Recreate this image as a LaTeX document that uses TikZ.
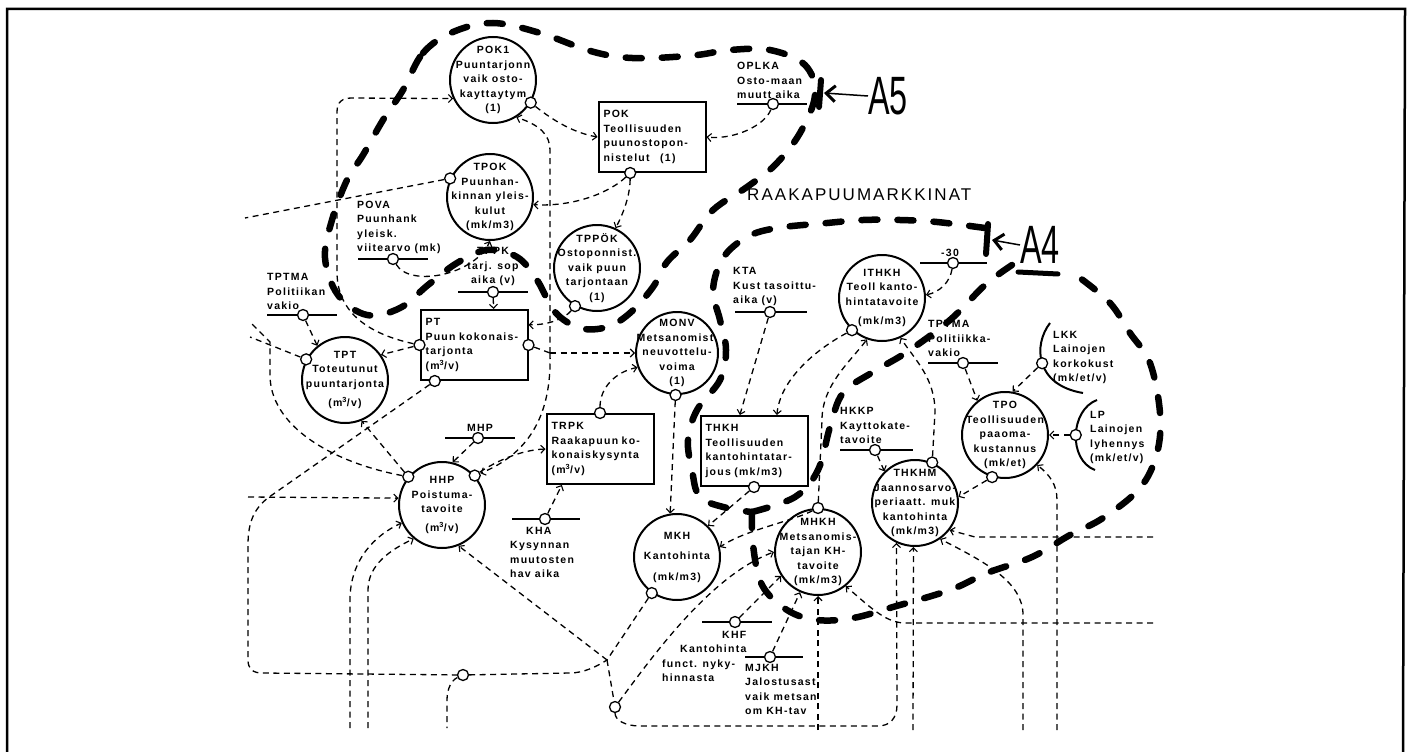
\documentclass[tikz,border=0pt]{standalone}
\usepackage{fontspec}
\setmainfont{Liberation Sans}
\newfontfamily\boxfont[LetterSpace=12]{Liberation Sans}
\newfontfamily\capsfont[LetterSpace=12]{Liberation Sans}
\newfontfamily\handfont[FakeStretch=0.6]{Liberation Sans}
\usetikzlibrary{arrows.meta,calc}

\begin{document}
\begin{tikzpicture}[x=1pt, y=-1pt, >={Straight Barb[length=4pt,width=8pt,line width=1.1pt]},
  every node/.style={font=\boxfont\bfseries\fontsize{10.5}{14.5}\selectfont, align=center, inner sep=0pt},
  bigc/.style={circle, draw, line width=2pt, minimum size=86pt, label={center:#1}},
  stockbox/.style={draw, line width=2pt, align=left, text width=97pt, inner xsep=5pt, minimum height=70pt},
  conn/.style={circle, draw, fill=white, line width=1.3pt, minimum size=11pt},
  parline/.style={line width=1.5pt},
  plabel/.style={align=left, anchor=south west},
  flow/.style={line width=1.3pt, dash pattern=on 6pt off 4.5pt},
  bound/.style={line width=6.5pt, dash pattern=on 16pt off 20pt, line cap=round},
  hand/.style={font=\handfont\fontsize{54}{54}\selectfont}]

  \useasboundingbox (0,0) rectangle (1416,752);
  \draw[line width=2.5pt] (7,752) -- (7,9) -- (1405,9) -- (1403,752);

  % levels and auxiliaries
  \node[bigc={POK1\\Puuntarjonn\\vaik osto-\\kayttaytym\\(1)}] (pok1) at (493,80) {};
  \node[bigc={TPOK\\Puunhan-\\kinnan yleis-\\kulut\\(mk/m3)}] (tpok) at (490,197) {};
  \node[bigc={TPPÖK\\Ostoponnist.\\vaik puun\\tarjontaan\\(1)}] (tppok) at (597,268) {};
  \node[bigc={TPT\\Toteutunut\\puuntarjonta\\[5pt](m\textsuperscript{3}/v)}] (tpt) at (345,380) {};
  \node[bigc={HHP\\Poistuma-\\tavoite\\[4pt](m\textsuperscript{3}/v)}] (hhp) at (442,505) {};
  \node[bigc={MONV\\Metsanomist.\\neuvottelu-\\voima\\(1)}, minimum size=82pt] (monv) at (677,353) {};
  \node[bigc={MKH\\[6pt]Kantohinta\\[6pt](mk/m3)}] (mkh) at (677,557) {};
  \node[bigc={MHKH\\Metsanomis-\\tajan KH-\\tavoite\\(mk/m3)}] (mhkh) at (818,552) {};
  \node[bigc={ITHKH\\Teoll kanto-\\hintatavoite\\[5pt](mk/m3)}] (ithkh) at (882,298) {};
  \node[bigc={THKHM\\Jaannosarvo-\\periaatt. muk\\kantohinta\\(mk/m3)}] (thkhm) at (915,503) {};
  \node[bigc={TPO\\Teollisuuden\\paaoma-\\kustannus\\(mk/et)}] (tpo) at (1005,435) {};

  \node[stockbox] (pok) at (652,137) {POK\\Teollisuuden\\puunostopon-\\nistelut\quad(1)};
  \node[stockbox] (pt) at (474,345) {PT\\Puun kokonais-\\tarjonta\\(m\textsuperscript{3}/v)};
  \node[stockbox] (trpk) at (600,449) {TRPK\\Raakapuun ko-\\konaiskysynta\\(m\textsuperscript{3}/v)};
  \node[stockbox] (thkh) at (754,451) {THKH\\Teollisuuden\\kantohintatar-\\jous (mk/m3)};

  % output connectors
  \node[conn] (pok1c) at (pok1.-31) {};
  \node[conn] (tpokc) at (tpok.155) {};
  \node[conn] (tppokc) at (tppok.-120) {};
  \node[conn] (tptc) at (tpt.152) {};
  \node[conn] (hhpl) at (hhp.140) {};
  \node[conn] (hhpr) at (hhp.42) {};
  \node[conn] (monvc) at (monv.-92) {};
  \node[conn] (mkhc) at (mkh.-125) {};
  \node[conn] (mhkhc) at (mhkh.90) {};
  \node[conn] (ithkhc) at (ithkh.-133) {};
  \node[conn] (thkhmc) at (thkhm.67) {};
  \node[conn] (tpoc) at (tpo.-107) {};
  \node[conn] (pokc) at ($(pok.south west)!0.3!(pok.south east)$) {};
  \node[conn] (ptl) at (pt.west) {};
  \node[conn] (ptr) at (pt.east) {};
  \node[conn] (ptb) at ($(pt.south west)!0.14!(pt.south east)$) {};
  \node[conn] (trpkc) at (trpk.north) {};
  \node[conn] (thkhc) at (thkh.south) {};
  \node[conn] (aux1) at (615,707) {};
  \node[conn] (aux2) at (463,675) {};
  \coordinate (jn) at (550,353);
  \coordinate (jx) at (607,660);

  % constants
  \foreach \n/\xa/\xb/\y/\xc in {oplka/737/807/104/773, pova/358/428/259/393,
      tppk/458/528/292/493, tptma/267/337/315/303, mhp/445/515/438/478,
      kha/512/580/519/545, kta/735/807/312/770, m30/920/987/263/953,
      tptmb/928/998/363/963, hkkp/840/913/450/875, khf/702/772/622/735,
      mjkh/745/803/657/770}{
    \draw[parline] (\xa,\y) -- (\xb,\y);
    \node[conn] (c-\n) at (\xc,\y) {};
  }
  \node[plabel] (oplka) at (737,99) {OPLKA\\Osto-maan\\muutt aika};
  \node[plabel] (pova) at (357,254) {POVA\\Puunhank\\yleisk.\\viitearvo (mk)};
  \node[anchor=south] (tppk) at (493,286) {TPPK\\tarj. sop\\aika (v)};
  \node[plabel] (tptma) at (267,310) {TPTMA\\Politiikan\\vakio};
  \node[anchor=south] (mhp) at (480,432) {MHP};
  \node[anchor=north west, align=left] (kha) at (510,527) {\hspace*{16pt}KHA\\Kysynnan\\muutosten\\hav aika};
  \node[plabel] (kta) at (733,306) {KTA\\Kust tasoittu-\\aika (v)};
  \node[anchor=south] (m30) at (950,257) {-30};
  \node[plabel] (tptmb) at (928,357) {TPTMA\\Politiikka-\\vakio};
  \node[plabel] (hkkp) at (840,444) {HKKP\\Kayttokate-\\tavoite};
  \node[anchor=north west, align=left] (khf) at (662,631) {\hspace*{60pt}KHF\\\hspace*{18pt}Kantohinta\\funct. nyky-\\hinnasta};
  \node[anchor=north west, align=left] (mjkh) at (745,664) {MJKH\\Jalostusast\\vaik metsan\\om KH-tav};

  \draw[line width=2pt] (1050,323) .. controls (1033,345) and (1035,385) .. (1083,393) node[conn, pos=0.5] (lkkc) {};
  \draw[line width=2pt] (1097,400) .. controls (1070,410) and (1068,460) .. (1095,470) node[conn, pos=0.5] (lpc) {};
  \node[anchor=north west, align=left] (lkk) at (1053,331) {LKK\\Lainojen\\korkokust\\(mk/et/v)};
  \node[anchor=north west, align=left] (lp) at (1090,411) {LP\\Lainojen\\lyhennys\\(mk/et/v)};

  % information links
  \draw[flow] (tpokc) -- (245,218);
  \draw[flow,->] (ptl) .. controls (378,336) and (337,318) .. (337,272) -- (337,112) .. controls (337,102) and (342,98) .. (352,98) -- (pok1.-155);
  \draw[flow,->] (ptl) -- (tpt.35);
  \draw[flow,->] (c-tptma) -- (tpt.129);
  \draw[flow] (tptc) -- (250,337);
  \draw[flow,->] (hhpl) -- (tpt.-68);
  \draw[flow] (hhpl) .. controls (330,462) and (270,425) .. (270,375) -- (270,342) -- (250,322);
  \draw[flow] (ptb) -- (272,495) .. controls (254,507) and (248,522) .. (248,545) -- (248,660) .. controls (248,669) and (253,673) .. (262,673) -- (aux2);
  \draw[flow] (aux2) -- (570,673) .. controls (583,673) and (596,667) .. (jx);
  \draw[flow] (aux2) .. controls (452,680) and (447,688) .. (447,700) -- (447,728);
  \draw[flow,->] (248,497) -- (hhp.171);
  \draw[flow,->] (c-mhp) -- (hhp.76);
  \draw[flow,->] (hhpr) .. controls (495,462) and (520,450) .. (trpk.west);
  \draw[flow] (ptr) -- (jn);
  \draw[flow,->] (jn) -- (monv.180);
  \draw[flow,->] (jn) -- (550,150) .. controls (550,135) and (540,125) .. (pok1.-58);
  \draw[flow,->] (jn) .. controls (552,420) and (525,455) .. (hhpr);
  \draw[flow,->] (pok1c) .. controls (555,122) and (575,133) .. (pok.west);
  \draw[flow,->] (pokc) .. controls (610,192) and (575,207) .. (tpok.-10);
  \draw[flow,->] (pokc) .. controls (630,195) and (624,212) .. (tppok.65);
  \draw[flow,->] (c-oplka) .. controls (765,125) and (735,140) .. (pok.east);
  \draw[flow,->] (c-pova) .. controls (410,288) and (475,275) .. (tpok.-90);
  \draw[flow,->] (c-tppk) -- ($(pt.north west)!0.68!(pt.north east)$);
  \draw[flow,->] (tppokc) .. controls (565,318) and (550,325) .. ($(pt.north east)!0.22!(pt.south east)$);
  \draw[flow,->] (trpkc) .. controls (600,388) and (615,372) .. (monv.-160);
  \draw[flow,->] (c-kha) -- ($(trpk.south west)!0.15!(trpk.south east)$);
  \draw[flow,->] (monvc) -- (mkh.99);
  \draw[flow,->] (c-kta) -- ($(thkh.north west)!0.37!(thkh.north east)$);
  \draw[flow,->] (ithkhc) .. controls (815,350) and (780,380) .. ($(thkh.north west)!0.71!(thkh.north east)$);
  \draw[flow,->] (c-m30) .. controls (950,282) and (940,292) .. (ithkh.4);
  \draw[flow,->] (mhkhc) -- (822,420) .. controls (822,385) and (850,362) .. (ithkh.-110);
  \draw[flow,->] (thkhmc) -- (935,412) .. controls (935,378) and (915,360) .. (ithkh.-65);
  \draw[flow,->] (c-tptmb) -- (tpo.129);
  \draw[flow,->] (lkkc) -- (tpo.80);
  \draw[flow,->] (lpc) -- (tpo.0);
  \draw[flow,->] (tpoc) -- (thkhm.8);
  \draw[flow,->] (c-hkkp) -- (thkhm.134);
  \draw[flow,->] (thkhc) -- (mkh.45);
  \draw[flow,->] (mhkhc) .. controls (790,522) and (745,530) .. (mkh.13);
  \draw[flow] (mkhc) -- (jx);
  \draw[flow,->] (jx) -- (hhp.-68);
  \draw[flow] (jx) -- (aux1);
  \draw[flow,->] (aux1) .. controls (650,660) and (710,575) .. (mhkh.180);
  \draw[flow,->] (aux1) .. controls (615,720) and (625,726) .. (640,726) -- (878,726) .. controls (890,726) and (897,718) .. (897,705) -- (thkhm.-115);
  \draw[flow,->] (c-khf) -- (mhkh.-147);
  \draw[flow,->] (c-mjkh) -- (mhkh.-114);
  \draw[flow,->] (818,730) -- (mhkh.-90);
  \draw[flow,->] (1153,623) -- (905,623) .. controls (885,623) and (868,605) .. (mhkh.-51);
  \draw[flow,->] (913,730) -- (thkhm.-92);
  \draw[flow,->] (1023,730) -- (1023,615) .. controls (1023,582) and (985,562) .. (thkhm.-55);
  \draw[flow,->] (1153,537) -- (975,537) -- (thkhm.-38);
  \draw[flow,->] (1057,730) -- (1057,500) .. controls (1057,485) and (1050,475) .. (tpo.-43);
  \draw[flow,->] (350,728) -- (350,600) .. controls (350,560) and (375,535) .. (hhp.-156);
  \draw[flow,->] (368,728) -- (368,590) .. controls (368,565) and (390,550) .. (hhp.-130);

  % sector boundaries
  \draw[bound] plot[smooth cycle, tension=0.6] coordinates {(403,90) (423,53) (453,32) (493,23) (540,33) (587,50) (620,57) (653,58) (697,55) (730,50) (770,50) (805,65) (815,95) (800,133) (775,165) (747,187) (713,210) (690,240) (667,262) (653,287) (630,313) (607,327) (580,328) (555,312) (537,280) (517,257) (487,250) (457,263) (428,285) (400,308) (367,315) (338,295) (325,258) (332,220) (347,180) (363,155) (383,120)};
  \draw[bound] plot[smooth, tension=0.6] coordinates {(985,228) (937,222) (900,220) (863,220) (827,223) (777,228) (747,237) (723,258) (713,290) (720,320) (726,350) (720,380) (697,410) (688,440) (692,470) (700,497) (727,508) (752,512)};
  \draw[bound] plot[smooth, tension=0.6] coordinates {(1012,265) (985,285) (950,320) (907,352) (873,372) (843,393) (830,427) (818,470) (795,497) (752,512)};
  \draw[bound] plot[smooth, tension=0.6] coordinates {(752,512) (753,545) (762,585) (787,610) (817,620) (853,618) (893,607) (950,590) (987,573) (1032,557) (1070,535) (1103,518) (1140,488) (1157,453) (1160,413) (1150,363) (1130,333) (1110,303) (1080,278)};

  \node[anchor=base west, font=\capsfont\fontsize{17}{20}\selectfont] (markets) at (747,200) {RAAKAPUUMARKKINAT};

  \node[hand] (a5) at (888,96) {A5};
  \coordinate (a5m) at (824,93);
  \draw[line width=6pt, line cap=round] (821,80) -- (819,107);
  \draw[-{Straight Barb[length=9pt,width=16pt,line width=3pt]}, line width=1.5pt] (a5.west) -- (a5m);

  \node[hand] (a4) at (1040,245) {A4};
  \coordinate (a4m) at (992,240);
  \draw[line width=5pt, line cap=round] (1018,272) -- (1058,274);
  \draw[line width=6pt, line cap=round] (988,224) -- (986,254);
  \draw[-{Straight Barb[length=9pt,width=16pt,line width=3pt]}, line width=1.5pt] (a4.west) -- (a4m);
\end{tikzpicture}
\end{document}
